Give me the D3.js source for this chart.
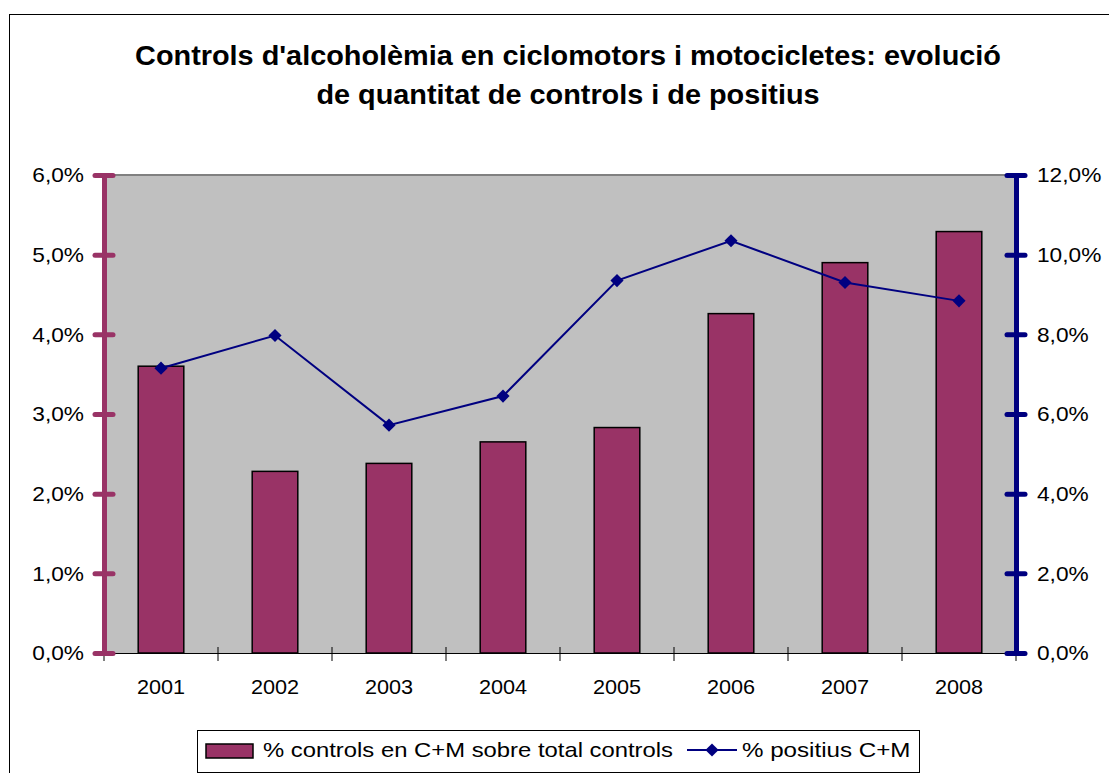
<!DOCTYPE html>
<html>
<head>
  <meta charset="UTF-8">
  <title>Controls d'alcoholèmia</title>
  <script src="https://cdnjs.cloudflare.com/ajax/libs/d3/7.8.5/d3.min.js"></script>
  <style>
    body { margin: 0; background: #fff; }
    text { font-family: "Liberation Sans", Arial, sans-serif; }
  </style>
</head>
<body>
<div id="chart"></div>
<script>
  var years = ['2001', '2002', '2003', '2004', '2005', '2006', '2007', '2008'];
  var controls = [3.60, 2.28, 2.38, 2.65, 2.83, 4.26, 4.90, 5.29];
  var positius = [7.15, 7.97, 5.72, 6.45, 9.35, 10.35, 9.30, 8.84];
  var leftTicks = [0, 1, 2, 3, 4, 5, 6];
  var rightTicks = [0, 2, 4, 6, 8, 10, 12];

  var W = 1109, H = 773;
  var plot = {left: 104, right: 1016, top: 175, bottom: 653};
  var plum = '#993366', navy = '#000080';

  // the source renders its text a little wide
  function stretch(sel, k){
    sel.each(function(){
      var len = this.getComputedTextLength();
      d3.select(this).attr('textLength', len * k).attr('lengthAdjust', 'spacingAndGlyphs');
    });
  }

  var svg = d3.select('#chart').append('svg')
      .attr('width', W).attr('height', H);

  // chart area border
  svg.append('rect')
      .attr('x', 9.5).attr('y', 14.5)
      .attr('width', W + 20).attr('height', H + 20)
      .attr('fill', '#fff').attr('stroke', '#000').attr('stroke-width', 1);

  var t1 = svg.append('text')
      .attr('x', 568).attr('y', 65)
      .attr('text-anchor', 'middle')
      .style('font-size', '28px').style('font-weight', 'bold')
      .text("Controls d'alcoholèmia en ciclomotors i motocicletes: evolució");
  var t2 = svg.append('text')
      .attr('x', 568).attr('y', 104)
      .attr('text-anchor', 'middle')
      .style('font-size', '28px').style('font-weight', 'bold')
      .text('de quantitat de controls i de positius');
  stretch(t1, 1.03);
  stretch(t2, 1.03);

  var x = d3.scaleBand().domain(years).range([plot.left, plot.right]).padding(0);
  var yL = d3.scaleLinear().domain([0, 6]).range([plot.bottom, plot.top]);
  var yR = d3.scaleLinear().domain([0, 12]).range([plot.bottom, plot.top]);
  var fmt = function(d){ return d.toFixed(1).replace('.', ',') + '%'; };

  // plot background
  svg.append('rect')
      .attr('x', plot.left).attr('y', plot.top)
      .attr('width', plot.right - plot.left).attr('height', plot.bottom - plot.top)
      .attr('fill', '#c0c0c0');
  svg.append('line')
      .attr('x1', plot.left).attr('x2', plot.right)
      .attr('y1', plot.top).attr('y2', plot.top)
      .attr('stroke', '#808080').attr('stroke-width', 2);

  // bars
  var bw = x.bandwidth() * 0.4;
  svg.selectAll('rect.bar')
      .data(controls)
      .enter().append('rect')
      .attr('class', 'bar')
      .attr('x', function(d, i){ return x(years[i]) + (x.bandwidth() - bw) / 2; })
      .attr('y', function(d){ return yL(d); })
      .attr('width', bw)
      .attr('height', function(d){ return yL(0) - yL(d); })
      .attr('fill', plum).attr('stroke', '#000').attr('stroke-width', 1.5);

  // x axis
  var xAxis = svg.append('g')
      .attr('transform', 'translate(0,' + plot.bottom + ')')
      .call(d3.axisBottom(x).tickSize(0).tickPadding(26));
  xAxis.select('.domain').attr('stroke', '#000').attr('stroke-width', 1.2);
  xAxis.selectAll('text').style('font-size', '21px').attr('fill', '#000');
  stretch(xAxis.selectAll('text'), 1.03);
  svg.selectAll('line.xtick')
      .data(d3.range(years.length + 1))
      .enter().append('line')
      .attr('class', 'xtick')
      .attr('x1', function(d){ return plot.left + d * x.step(); })
      .attr('x2', function(d){ return plot.left + d * x.step(); })
      .attr('y1', plot.bottom - 6).attr('y2', plot.bottom + 8)
      .attr('stroke', '#000').attr('stroke-width', 1);

  // line series
  var line = d3.line()
      .x(function(d, i){ return x(years[i]) + x.bandwidth() / 2; })
      .y(function(d){ return yR(d); });
  svg.append('path')
      .datum(positius)
      .attr('d', line)
      .attr('fill', 'none').attr('stroke', navy).attr('stroke-width', 2);
  var diamond = d3.symbol().type(d3.symbolDiamond2).size(110);
  svg.selectAll('path.pt')
      .data(positius)
      .enter().append('path')
      .attr('class', 'pt')
      .attr('d', diamond)
      .attr('transform', function(d, i){
        return 'translate(' + (x(years[i]) + x.bandwidth() / 2) + ',' + yR(d) + ')';
      })
      .attr('fill', navy);

  // left axis
  var gL = svg.append('g')
      .attr('transform', 'translate(' + plot.left + ',0)')
      .call(d3.axisLeft(yL).tickValues(leftTicks).tickFormat(fmt).tickSize(0).tickPadding(20));
  gL.select('.domain').attr('stroke', plum).attr('stroke-width', 5);
  gL.selectAll('text').style('font-size', '21px').attr('fill', '#000');
  stretch(gL.selectAll('text'), 1.08);
  gL.selectAll('.tick').append('line')
      .attr('x1', -9).attr('x2', 9)
      .attr('stroke', plum).attr('stroke-width', 5).attr('stroke-linecap', 'round');

  // right axis
  var gR = svg.append('g')
      .attr('transform', 'translate(' + plot.right + ',0)')
      .call(d3.axisRight(yR).tickValues(rightTicks).tickFormat(fmt).tickSize(0).tickPadding(21));
  gR.select('.domain').attr('stroke', navy).attr('stroke-width', 5);
  gR.selectAll('text').style('font-size', '21px').attr('fill', '#000');
  stretch(gR.selectAll('text'), 1.08);
  gR.selectAll('.tick').append('line')
      .attr('x1', -9).attr('x2', 9)
      .attr('stroke', navy).attr('stroke-width', 5).attr('stroke-linecap', 'round');

  // legend
  var lg = svg.append('g');
  lg.append('rect')
      .attr('x', 197.5).attr('y', 730.5).attr('width', 722).attr('height', 42)
      .attr('fill', '#fff').attr('stroke', '#000').attr('stroke-width', 1);
  lg.append('rect')
      .attr('x', 206).attr('y', 744).attr('width', 47).attr('height', 14)
      .attr('fill', plum).attr('stroke', '#000').attr('stroke-width', 1.5);
  var lt1 = lg.append('text')
      .attr('x', 263).attr('y', 757)
      .style('font-size', '21px')
      .text('% controls en C+M sobre total controls');
  stretch(lt1, 1.135);
  lg.append('line')
      .attr('x1', 687).attr('x2', 737).attr('y1', 750).attr('y2', 750)
      .attr('stroke', navy).attr('stroke-width', 2);
  lg.append('path')
      .attr('d', diamond)
      .attr('transform', 'translate(712,750)')
      .attr('fill', navy);
  var lt2 = lg.append('text')
      .attr('x', 742).attr('y', 757)
      .style('font-size', '21px')
      .text('% positius C+M');
  stretch(lt2, 1.15);
</script>
</body>
</html>
